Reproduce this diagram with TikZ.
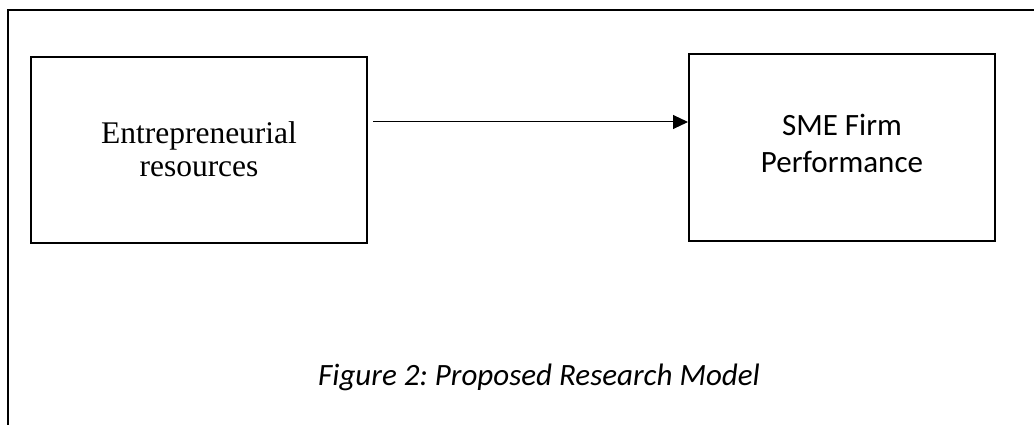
\documentclass[tikz,border=0pt]{standalone}
\usepackage{fontspec}
\setmainfont{Liberation Serif}
\newfontfamily\calibri{Carlito}
\usetikzlibrary{arrows.meta}
\frenchspacing
\begin{document}
\begin{tikzpicture}[x=1pt,y=-1pt,
  boxstyle/.style={draw=black,line width=2pt,rectangle,inner sep=0pt,align=center},
  conn/.style={line width=1pt,-{Triangle[length=15pt,width=14pt]}},
  frame/.style={draw=black,line width=2.2pt}]
\useasboundingbox (0,0) rectangle (1034,425);
\draw[frame] (8,430) -- (8,10) -- (1040,10);
\node[boxstyle,minimum width=336pt,minimum height=186pt,
  font=\fontsize{31.5}{33}\selectfont] (L) at (199,150) {Entrepreneurial\\resources\rule[-2.5pt]{0pt}{0pt}};
\node[boxstyle,minimum width=306pt,minimum height=187pt,
  font=\calibri\fontsize{31}{37}\selectfont] (R) at (842,147.5) {SME Firm\\Performance\rule[-8.5pt]{0pt}{0pt}};
\coordinate (a) at (373,122);
\draw[conn] (a) -- (a -| R.west);
\node[font=\calibri\itshape\fontsize{31}{36}\selectfont,anchor=base] (cap) at (539,385) {\frenchspacing Figure 2: Proposed Research Model};
\end{tikzpicture}
\end{document}
